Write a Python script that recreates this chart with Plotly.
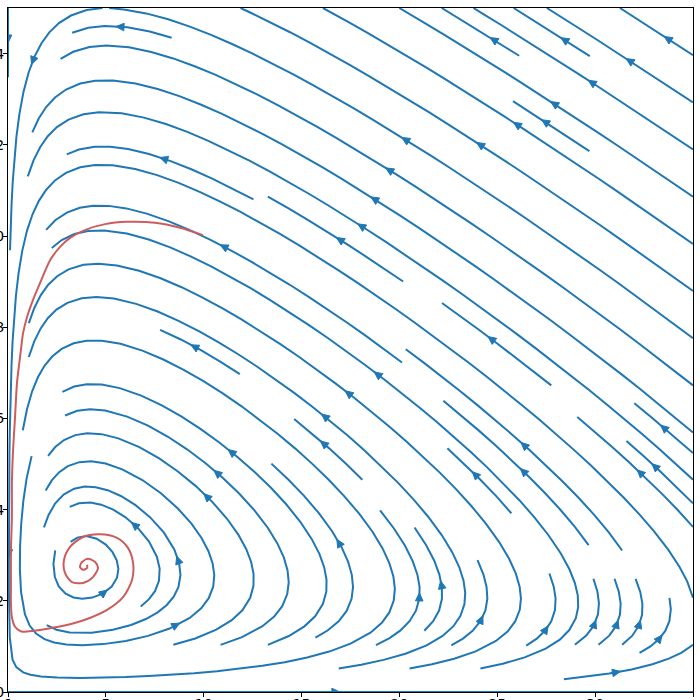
import numpy as np
import plotly.graph_objects as go

# ---- model (prey x, predator y) ----
alpha, beta, e_self = 1.0, 0.35, 0.011
delta, gamma, eps_self = 0.1, 0.36, 0.01

x_range = [0, 35]
y_range = [0, 15]
x_ticks = [0, 5, 10, 15, 20, 25, 30, 35]
y_ticks = [0, 2, 4, 6, 8, 10, 12, 14]

# ---- trajectory ----
traj_x = [9.96, 8.79, 7.51, 6.08, 4.96, 3.93, 3.17, 2.66, 2.15, 1.64, 1.28, 0.97, 0.77, 0.66,
          0.46, 0.36, 0.26, 0.20, 0.20, 0.15, 0.15, 0.15, 0.20, 0.36, 0.61, 0.77, 1.28, 2.15,
          3.01, 4.04, 5.06, 5.88, 6.34, 6.39, 6.13, 5.57, 4.70, 3.83, 3.17, 2.86, 2.91, 3.27,
          3.83, 4.34, 4.60, 4.45, 4.09, 3.78, 3.68, 3.83, 4.04, 4.04]
traj_y = [10.02, 10.18, 10.29, 10.31, 10.26, 10.13, 9.96, 9.76, 9.47, 8.97, 8.60, 8.22, 7.87, 7.50,
          6.78, 6.03, 5.31, 4.58, 3.84, 3.11, 2.39, 1.95, 1.64, 1.43, 1.34, 1.32, 1.34, 1.40,
          1.47, 1.60, 1.80, 2.08, 2.46, 2.83, 3.16, 3.38, 3.46, 3.40, 3.18, 2.89, 2.61, 2.41,
          2.39, 2.52, 2.72, 2.85, 2.92, 2.85, 2.74, 2.68, 2.72, 2.79]

BLUE = "#1f77b4"
RED = "#cd5c5c"

# ---- vector field ----
gnx, gny = 100, 100
xs = np.linspace(x_range[0], x_range[1], gnx)
ys = np.linspace(y_range[0], y_range[1], gny)
X, Y = np.meshgrid(xs, ys)
U = X * (alpha - beta * Y - e_self * X)
V = Y * (delta * X - gamma - eps_self * Y)


class OutOfBounds(Exception):
    pass


class Terminate(Exception):
    pass


class InvalidIndex(Exception):
    pass


def streamplot(xs, ys, U, V, density=1.0, minlength=0.1, maxlength=4.0):
    gnx, gny = len(xs), len(ys)
    dxg = xs[1] - xs[0]
    dyg = ys[1] - ys[0]
    mnx = mny = int(30 * density)
    mask = np.zeros((mny, mnx), dtype=int)
    x_g2m = (mnx - 1) / (gnx - 1)
    y_g2m = (mny - 1) / (gny - 1)
    u = U / dxg
    v = V / dyg
    speed = np.sqrt((u / (gnx - 1)) ** 2 + (v / (gny - 1)) ** 2)
    state = {"traj": [], "cur": None}

    def within(xi, yi):
        return 0 <= xi <= gnx - 1 and 0 <= yi <= gny - 1

    def g2m(xi, yi):
        return round(xi * x_g2m), round(yi * y_g2m)

    def upd(xm, ym):
        if state["cur"] != (xm, ym):
            if mask[ym, xm] == 0:
                state["traj"].append((ym, xm))
                mask[ym, xm] = 1
                state["cur"] = (xm, ym)
            else:
                raise InvalidIndex

    def interp(a, xi, yi):
        x = int(xi)
        y = int(yi)
        xn = x if x == gnx - 1 else x + 1
        yn = y if y == gny - 1 else y + 1
        xt = xi - x
        yt = yi - y
        a0 = a[y, x] * (1 - xt) + a[y, xn] * xt
        a1 = a[yn, x] * (1 - xt) + a[yn, xn] * xt
        return a0 * (1 - yt) + a1 * yt

    def fwd(xi, yi):
        if not within(xi, yi):
            raise OutOfBounds
        s = interp(speed, xi, yi)
        if s == 0:
            raise Terminate
        return interp(u, xi, yi) / s, interp(v, xi, yi) / s

    def bwd(xi, yi):
        a, b = fwd(xi, yi)
        return -a, -b

    def euler(traj, f):
        xi, yi = traj[-1]
        cx, cy = f(xi, yi)
        if cx == 0:
            dsx = np.inf
        elif cx < 0:
            dsx = xi / -cx
        else:
            dsx = (gnx - 1 - xi) / cx
        if cy == 0:
            dsy = np.inf
        elif cy < 0:
            dsy = yi / -cy
        else:
            dsy = (gny - 1 - yi) / cy
        ds = min(dsx, dsy)
        traj.append((xi + cx * ds, yi + cy * ds))
        return ds, traj

    def rk12(x0, y0, f):
        maxerror = 0.003
        maxds = min(1.0 / mnx, 1.0 / mny, 0.1)
        ds = maxds
        stotal = 0.0
        xi, yi = x0, y0
        traj = []
        while True:
            try:
                if within(xi, yi):
                    traj.append((xi, yi))
                else:
                    raise OutOfBounds
                k1x, k1y = f(xi, yi)
                k2x, k2y = f(xi + ds * k1x, yi + ds * k1y)
            except OutOfBounds:
                if traj:
                    try:
                        d, traj = euler(traj, f)
                        stotal += d
                    except (Terminate, OutOfBounds):
                        pass
                break
            except Terminate:
                break
            dx1 = ds * k1x
            dy1 = ds * k1y
            dx2 = ds * 0.5 * (k1x + k2x)
            dy2 = ds * 0.5 * (k1y + k2y)
            err = np.hypot((dx2 - dx1) / (gnx - 1), (dy2 - dy1) / (gny - 1))
            if err < maxerror:
                xi += dx2
                yi += dy2
                try:
                    if not within(xi, yi):
                        raise InvalidIndex
                    xm, ym = g2m(xi, yi)
                    upd(xm, ym)
                except InvalidIndex:
                    break
                if stotal + ds > maxlength:
                    break
                stotal += ds
            if err == 0:
                ds = maxds
            else:
                ds = min(maxds, 0.85 * ds * (maxerror / err) ** 0.5)
        return stotal, traj

    def integrate(x0, y0):
        stotal = 0.0
        xy = []
        state["traj"] = []
        try:
            xm, ym = g2m(x0, y0)
            upd(xm, ym)
        except InvalidIndex:
            return None
        s, t = rk12(x0, y0, bwd)
        stotal += s
        xy += t[::-1]
        state["cur"] = g2m(x0, y0)
        s, t = rk12(x0, y0, fwd)
        stotal += s
        xy += t[1:]
        if stotal > minlength:
            return np.array(xy)
        for (ym_, xm_) in state["traj"]:
            mask[ym_, xm_] = 0
        return None

    def gen_start(ny, nx):
        xfirst, yfirst, xlast, ylast = 0, 1, nx - 1, ny - 1
        x, y = 0, 0
        direction = "right"
        for _ in range(nx * ny):
            yield x, y
            if direction == "right":
                x += 1
                if x >= xlast:
                    xlast -= 1
                    direction = "up"
            elif direction == "up":
                y += 1
                if y >= ylast:
                    ylast -= 1
                    direction = "left"
            elif direction == "left":
                x -= 1
                if x <= xfirst:
                    xfirst += 1
                    direction = "down"
            elif direction == "down":
                y -= 1
                if y <= yfirst:
                    yfirst += 1
                    direction = "right"

    out = []
    for xm, ym in gen_start(mny, mnx):
        if mask[ym, xm] == 0:
            xg, yg = xm / x_g2m, ym / y_g2m
            t = integrate(xg, yg)
            if t is not None and len(t) > 1:
                tx = t[:, 0] * dxg + xs[0]
                ty = t[:, 1] * dyg + ys[0]
                out.append((tx, ty))
    return out


lines = streamplot(xs, ys, U, V, density=1.0)

# plot-area geometry in pixels (for arrowhead shape)
W, H = 700, 700
ml, mr, mt, mb = 8, 7, 8, 8
pw, ph = W - ml - mr, H - mt - mb
sx = pw / (x_range[1] - x_range[0])
sy = ph / (y_range[1] - y_range[0])

lx, ly = [], []
ax_, ay_ = [], []
L_head, w_head = 8.0, 3.8
for tx, ty in lines:
    lx += list(tx) + [None]
    ly += list(ty) + [None]
    s = np.cumsum(np.hypot(np.diff(tx), np.diff(ty)))
    n = int(np.searchsorted(s, s[-1] / 2.0))
    n = min(n, len(tx) - 2)
    tail = np.array([tx[n], ty[n]])
    head = np.array([np.mean(tx[n:n + 2]), np.mean(ty[n:n + 2])])
    d = np.array([(head[0] - tail[0]) * sx, (head[1] - tail[1]) * sy])
    nd = np.hypot(*d)
    if nd == 0:
        continue
    d /= nd
    nrm = np.array([-d[1], d[0]])
    tip = np.array([head[0] * sx, head[1] * sy])
    base = tip - L_head * d
    p1 = base + w_head * nrm
    p2 = base - w_head * nrm
    for p in (tip, p1, p2, tip):
        ax_.append(p[0] / sx)
        ay_.append(p[1] / sy)
    ax_.append(None)
    ay_.append(None)

fig = go.Figure()
fig.add_trace(go.Scatter(x=lx, y=ly, mode="lines",
                         line=dict(color=BLUE, width=2), hoverinfo="skip", showlegend=False))
fig.add_trace(go.Scatter(x=ax_, y=ay_, mode="lines", fill="toself", fillcolor=BLUE,
                         line=dict(color=BLUE, width=1), hoverinfo="skip", showlegend=False))
fig.add_trace(go.Scatter(x=traj_x, y=traj_y, mode="lines",
                         line=dict(color=RED, width=2, shape="spline", smoothing=0.8),
                         hoverinfo="skip", showlegend=False))

axis_common = dict(showgrid=False, zeroline=False, showline=True, mirror=True,
                   linecolor="black", linewidth=1, ticks="outside", ticklen=4,
                   tickcolor="black", automargin=False,
                   tickfont=dict(family="DejaVu Sans", size=14, color="black"))
fig.update_layout(
    width=W, height=H,
    margin=dict(l=ml, r=mr, t=mt, b=mb, pad=0, autoexpand=False),
    paper_bgcolor="white", plot_bgcolor="white",
    xaxis=dict(range=x_range, tickvals=x_ticks, ticklabelstandoff=-5, **axis_common),
    yaxis=dict(range=y_range, tickvals=y_ticks, ticklabelstandoff=-4, **axis_common),
)
fig.write_html("out.html", config={"displayModeBar": False},
               post_script="document.body.style.margin='0';document.body.style.overflow='hidden';")
